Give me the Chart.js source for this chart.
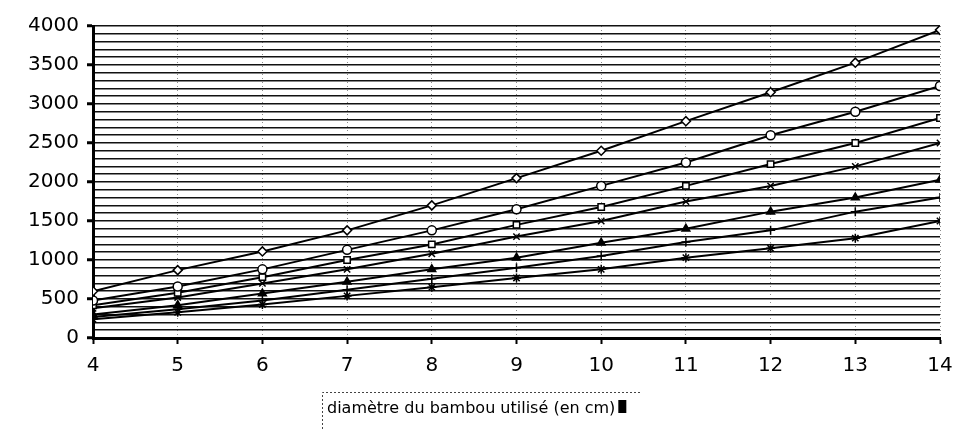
<!DOCTYPE html>
<html>
<head>
<meta charset="utf-8">
<script src="https://cdn.jsdelivr.net/npm/chart.js@4/dist/chart.umd.min.js"></script>
<style>
  html, body { margin: 0; padding: 0; background: #fff; }
  #wrap { width: 967px; height: 438px; }
</style>
</head>
<body>
<div id="wrap"><canvas id="bambou-chart"></canvas></div>
<script>
// diamètre du bambou (cm)
var diametres = [4, 5, 6, 7, 8, 9, 10, 11, 12, 13, 14];
var yTicks = [0, 500, 1000, 1500, 2000, 2500, 3000, 3500, 4000];
var axisTitle = 'diamètre du bambou utilisé (en cm)';

// one series per curve, from top to bottom
var serie1 = [600, 870, 1110, 1380, 1700, 2050, 2400, 2780, 3150, 3530, 3950];
var serie2 = [480, 660, 880, 1130, 1380, 1650, 1950, 2250, 2600, 2900, 3230];
var serie3 = [420, 580, 780, 1000, 1200, 1450, 1680, 1950, 2230, 2500, 2820];
var serie4 = [380, 520, 700, 880, 1080, 1300, 1500, 1750, 1950, 2200, 2500];
var serie5 = [300, 420, 570, 720, 880, 1030, 1220, 1400, 1620, 1800, 2030];
var serie6 = [270, 370, 480, 620, 760, 900, 1050, 1230, 1380, 1620, 1800];
var serie7 = [240, 330, 430, 540, 650, 770, 880, 1030, 1150, 1280, 1500];

function toPoints(values) {
  return values.map(function(v, i) { return {x: diametres[i], y: v}; });
}

function line(values, style, filled) {
  return {
    data: toPoints(values),
    borderColor: '#000',
    borderWidth: 2,
    pointStyle: style,
    pointRadius: 4.5,
    pointBorderWidth: 1.5,
    pointBorderColor: '#000',
    pointBackgroundColor: filled ? '#000' : '#fff',
    tension: 0
  };
}

// boxed axis caption with its small black key
var captionBox = {
  id: 'captionBox',
  afterDraw: function(chart) {
    var ctx = chart.ctx;
    var area = chart.chartArea;
    var left = area.left + 229, top = area.bottom + 54;
    ctx.save();
    ctx.strokeStyle = '#444';
    ctx.lineWidth = 1;
    ctx.setLineDash([2, 2]);
    ctx.beginPath();
    ctx.moveTo(left + 0.5, top + 37);
    ctx.lineTo(left + 0.5, top + 0.5);
    ctx.lineTo(left + 318, top + 0.5);
    ctx.stroke();
    ctx.setLineDash([]);
    ctx.fillStyle = '#000';
    ctx.font = '16px "DejaVu Sans"';
    ctx.textBaseline = 'alphabetic';
    ctx.fillText(axisTitle, left + 5, top + 21);
    var w = ctx.measureText(axisTitle).width;
    ctx.fillRect(left + 8 + w, top + 8, 8, 13);
    ctx.restore();
  }
};

new Chart(document.getElementById('bambou-chart'), {
  type: 'line',
  data: {
    datasets: [
      line(serie1, 'rectRot', false),
      line(serie2, 'circle', false),
      line(serie3, 'rect', false),
      line(serie4, 'crossRot', false),
      line(serie5, 'triangle', true),
      line(serie6, 'cross', false),
      line(serie7, 'star', false)
    ]
  },
  options: {
    responsive: true,
    maintainAspectRatio: false,
    animation: false,
    layout: {padding: {left: 0, right: 27, top: 26, bottom: 0}},
    plugins: {legend: {display: false}, tooltip: {enabled: false}},
    scales: {
      x: {
        type: 'linear',
        min: diametres[0],
        max: diametres[diametres.length - 1],
        ticks: {
          stepSize: 1,
          color: '#000',
          padding: 10,
          font: {family: 'DejaVu Sans', size: 20}
        },
        grid: {
          color: 'rgba(0,0,0,0.45)',
          lineWidth: 1,
          tickColor: '#000',
          tickWidth: 2,
          tickLength: 6
        },
        border: {color: '#000', width: 3, dash: [1, 3]},
        afterFit: function(scale) { scale.height = 100; }
      },
      y: {
        min: yTicks[0],
        max: yTicks[yTicks.length - 1],
        ticks: {
          stepSize: 100,
          autoSkip: false,
          color: '#000',
          padding: 8,
          font: {family: 'DejaVu Sans', size: 20},
          callback: function(v) { return yTicks.indexOf(v) >= 0 ? v : ''; }
        },
        grid: {
          color: '#111',
          lineWidth: 1.5,
          tickLength: 6,
          tickWidth: 3,
          tickColor: function(c) {
            return c.tick && yTicks.indexOf(c.tick.value) >= 0 ? '#000' : 'rgba(0,0,0,0)';
          }
        },
        border: {color: '#000', width: 3},
        afterFit: function(scale) { scale.width = 93; }
      }
    }
  },
  plugins: [captionBox]
});
</script>
</body>
</html>
